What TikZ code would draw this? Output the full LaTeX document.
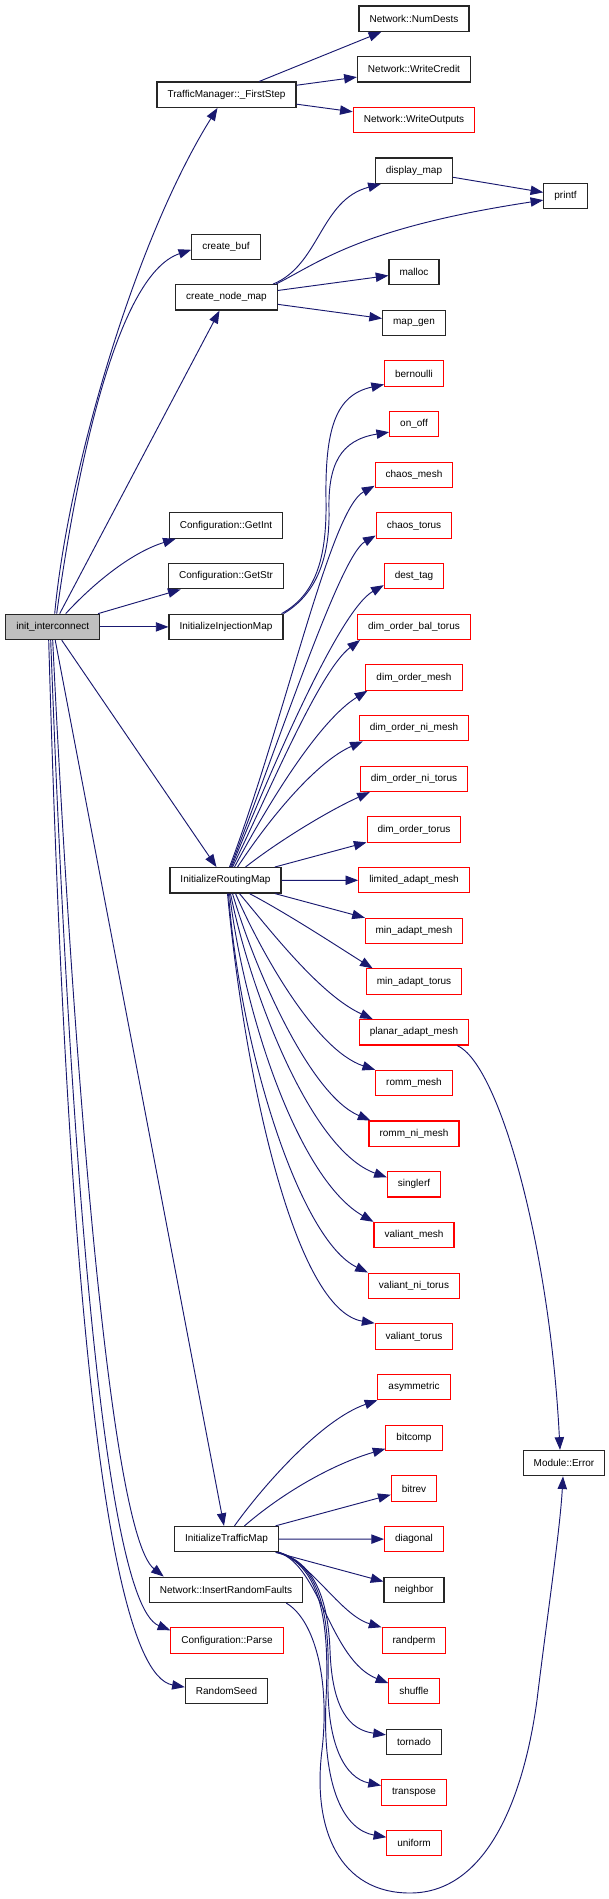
\documentclass[tikz,border=0pt]{standalone}
\usepackage{fontspec}
\setmainfont{Liberation Sans}
\usepackage{xcolor}
\usetikzlibrary{arrows.meta,calc}
\definecolor{edgeblue}{HTML}{191970}

\begin{document}
\begin{tikzpicture}[>={Triangle[length=9.5pt,width=7pt]},x=0.75pt,y=-0.75pt,
  fn/.style={draw=black!85,line width=0.9pt,fill=white,font=\fontsize{7.5}{9}\selectfont,inner xsep=7.9pt,inner ysep=0pt,minimum height=19pt},
  ext/.style={fn,draw=red,line width=0.8pt},
  call/.style={->,draw=edgeblue,line width=0.7pt}]
\fill[white] (0,0) rectangle (609,1899); \useasboundingbox (0,0) rectangle (609,1899);
\foreach \n/\t/\k/\s in {numd/Network::NumDests/0/fn,wcred/Network::WriteCredit/1/fn,wout/Network::WriteOutputs/2/ext,dmap/display\_map/3/fn,malloc/malloc/5/fn,mapgen/map\_gen/6/fn,
  bern/bernoulli/7/ext,onoff/on\_off/8/ext,chm/chaos\_mesh/9/ext,cht/chaos\_torus/10/ext,dtag/dest\_tag/11/ext,dobt/dim\_order\_bal\_torus/12/ext,dom/dim\_order\_mesh/13/ext,
  donim/dim\_order\_ni\_mesh/14/ext,donit/dim\_order\_ni\_torus/15/ext,dimt/dim\_order\_torus/16/ext,lam/limited\_adapt\_mesh/17/ext,mam/min\_adapt\_mesh/18/ext,
  mat/min\_adapt\_torus/19/ext,pam/planar\_adapt\_mesh/20/ext,rm/romm\_mesh/21/ext,rnm/romm\_ni\_mesh/22/ext,srf/singlerf/23/ext,vm/valiant\_mesh/24/ext,
  vnt/valiant\_ni\_torus/25/ext,vt/valiant\_torus/26/ext,asym/asymmetric/27/ext,bcomp/bitcomp/28/ext,brev/bitrev/29/ext,diag/diagonal/30/ext,nbr/neighbor/31/fn,
  rperm/randperm/32/ext,shuf/shuffle/33/ext,torn/tornado/34/fn,trans/transpose/35/ext,unif/uniform/36/ext}
  {\node[\s] (\n) at (414,{18.7+50.68*\k}) {\t};}
\node[fn] (tm) at (226.5,94.7) {TrafficManager::\_FirstStep};
\node[fn] (printf) at (565.5,196.1) {printf};
\node[fn] (cbuf) at (226,246.8) {create\_buf};
\node[fn] (cnm) at (226.5,297.4) {create\_node\_map};
\node[fn] (getint) at (226,525.5) {Configuration::GetInt};
\node[fn] (getstr) at (226,576.2) {Configuration::GetStr};
\node[fn,fill=black!25] (init) at (52.7,626.9) {init\_interconnect};
\node[fn] (injmap) at (226,626.9) {InitializeInjectionMap};
\node[fn] (irm) at (225.5,880.3) {InitializeRoutingMap};
\node[fn] (merr) at (564,1463.1) {Module::Error};
\node[fn] (itm) at (226.5,1539.1) {InitializeTrafficMap};
\node[fn] (irf) at (226,1589.8) {Network::InsertRandomFaults};
\node[ext] (parse) at (227,1640.5) {Configuration::Parse};
\node[fn] (rseed) at (226.5,1691.1) {RandomSeed};
\foreach \a/\b in {tm/numd,tm/wcred,tm/wout,cnm/malloc,cnm/mapgen,dmap/printf,init/cnm,init/getstr,init/injmap,init/irm,init/itm,irm/dimt,irm/lam,irm/mam,itm/brev,itm/diag,itm/nbr}
  {\draw[call] (\a)--(\b);}
\draw[call] ($(init.north)+(2,0)$) .. controls (68,470) and (135,240) .. ($(tm.south)+(-9,0)$);
\draw[call] ($(init.north)+(4,0)$) .. controls (75,480) and (115,275) .. ($(cbuf.west)+(0,3)$);
\draw[call] ($(init.north)+(13,0)$) .. controls (92,585) and (130,553) .. ($(getint.south west)+(7,0)$);
\draw[call] (init.south) .. controls (68,960) and (105,1530) .. ($(irf.north west)+(15,0)$);
\draw[call] ($(init.south)+(-2,0)$) .. controls (64,1000) and (95,1600) .. ($(parse.north west)+(0,3)$);
\draw[call] ($(init.south)+(-4,0)$) .. controls (60,1040) and (88,1670) .. ($(rseed.west)+(0,-4)$);
\draw[call] ($(cnm.north east)+(-5,0)$) .. controls (320,265) and (320,200) .. ($(dmap.south west)+(6,0)$);
\draw[call] ($(cnm.north east)+(-2,0)$) .. controls (320,262) and (360,228) .. ($(printf.west)+(0,4)$);
\draw[call] ($(injmap.north east)+(-2,0)$) .. controls (315,595) and (327,560) .. (326,500) .. controls (325,430) and (335,395) .. ($(bern.west)+(0,11)$);
\draw[call] (injmap.north east) .. controls (315,595) and (330,560) .. (329,510) .. controls (328,465) and (340,440) .. ($(onoff.west)+(0,8)$);
\draw[call] ($(irm.north)+(4,0)$) .. controls (285,720) and (330,510) .. ($(chm.west)+(0,11)$);
\draw[call] ($(irm.north)+(5,0)$) .. controls (280,740) and (340,556) .. ($(cht.west)+(0,10)$);
\draw[call] ($(irm.north)+(6,0)$) .. controls (275,760) and (340,610) .. ($(dtag.west)+(0,9)$);
\draw[call] ($(irm.north)+(7,0)$) .. controls (270,790) and (320,670) .. ($(dobt.south west)+(3,0)$);
\draw[call] ($(irm.north)+(9,0)$) .. controls (270,800) and (320,720) .. ($(dom.south west)+(2,0)$);
\draw[call] ($(irm.north)+(12,0)$) .. controls (275,810) and (320,760) .. ($(donim.south west)+(4,0)$);
\draw[call] ($(irm.north)+(20,0)$) .. controls (280,840) and (330,810) .. ($(donit.south west)+(10,0)$);
\draw[call] ($(irm.south)+(24,0)$) .. controls (290,915) and (340,948) .. ($(mat.north west)+(7,0)$);
\draw[call] ($(irm.south)+(14,0)$) .. controls (270,930) and (320,995) .. ($(pam.north west)+(14,0)$);
\draw[call] ($(irm.south)+(10,0)$) .. controls (260,950) and (315,1050) .. (rm.north west);
\draw[call] ($(irm.south)+(7,0)$) .. controls (255,970) and (310,1095) .. ($(rnm.north west)+(2,0)$);
\draw[call] ($(irm.south)+(5,0)$) .. controls (250,990) and (310,1150) .. ($(srf.west)+(0,-7)$);
\draw[call] ($(irm.south)+(4,0)$) .. controls (245,1020) and (300,1180) .. (vm.north west);
\draw[call] ($(irm.south)+(3,0)$) .. controls (240,1050) and (300,1240) .. (vnt.north west);
\draw[call] ($(irm.south)+(2,0)$) .. controls (245,1080) and (295,1310) .. (vt.north west);
\draw[call] ($(pam.south east)+(-12,0)$) .. controls (500,1065) and (550,1250) .. ($(merr.north)+(-4,0)$);
\draw[call] ($(irf.south east)+(-17,0)$) .. controls (315,1620) and (330,1680) .. (322,1750) .. controls (312,1830) and (340,1893) .. (410,1893)
  .. controls (490,1893) and (525,1790) .. (537,1700) .. controls (548,1610) and (560,1530) .. ($(merr.south)+(-1,0)$);
\draw[call] ($(itm.north)+(8,0)$) .. controls (260,1490) and (320,1420) .. (asym.south west);
\draw[call] ($(itm.north)+(18,0)$) .. controls (280,1495) and (330,1465) .. ($(bcomp.west)+(0,11)$);
\draw[call] ($(itm.south east)+(-2,0)$) .. controls (310,1560) and (340,1615) .. (rperm.north west);
\draw[call] ($(itm.south east)+(-1,0)$) .. controls (320,1565) and (330,1660) .. ($(shuf.west)+(0,-8)$);
\draw[call] (itm.south east) .. controls (315,1563) and (328,1600) .. (330,1650) .. controls (332,1710) and (350,1730) .. ($(torn.west)+(0,-7)$);
\draw[call] (itm.south east) .. controls (318,1565) and (330,1610) .. (328,1680) .. controls (327,1745) and (345,1778) .. ($(trans.west)+(0,-7)$);
\draw[call] (itm.south east) .. controls (320,1567) and (330,1620) .. (326,1700) .. controls (322,1790) and (345,1830) .. ($(unif.west)+(0,-6)$);
\end{tikzpicture}
\end{document}
